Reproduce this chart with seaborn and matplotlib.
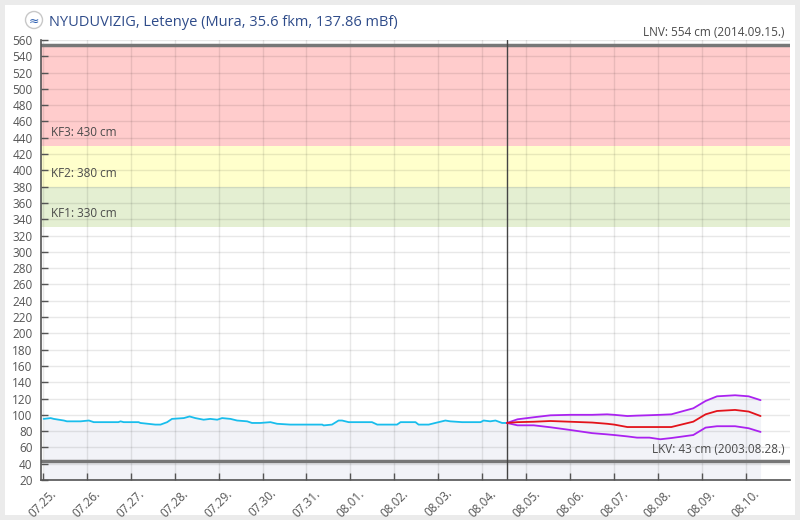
import pandas as pd
import matplotlib.pyplot as plt
import matplotlib.dates as mdates
from matplotlib.patches import Rectangle, Ellipse
import seaborn as sns

# observed water level (days since 07.25 00:00, cm)
start = pd.Timestamp("2025-07-25")
obs_day = [0.02, 0.18, 0.25, 0.48, 0.55, 0.86, 1.05, 1.16, 1.72, 1.77, 1.84, 2.18, 2.22,
           2.56, 2.68, 2.83, 2.94, 3.21, 3.34, 3.47, 3.66, 3.81, 3.97, 4.08, 4.27, 4.42,
           4.65, 4.76, 4.95, 5.18, 5.33, 5.63, 5.86, 6.36, 6.39, 6.58, 6.73, 6.81, 6.96,
           7.49, 7.61, 8.06, 8.14, 8.48, 8.55, 8.78, 8.93, 9.16, 9.27, 9.54, 9.96, 10.03,
           10.18, 10.30, 10.45, 10.56]
obs_level = [95, 96, 95, 93, 92, 92, 93, 91, 91, 92, 91, 91, 90,
             88, 88, 91, 95, 96, 98, 96, 94, 95, 94, 96, 95, 93,
             92, 90, 90, 91, 89, 88, 88, 88, 87, 88, 93, 93, 91,
             91, 88, 88, 91, 91, 88, 88, 90, 93, 92, 91, 91, 93,
             92, 93, 90, 90]

# forecast (mid, upper and lower band)
fc_day = [10.56, 10.8, 11.17, 11.55, 12.0, 12.5, 12.84, 13.0, 13.3, 13.52, 13.8,
          14.05, 14.3, 14.8, 15.08, 15.34, 15.75, 16.06, 16.33]
fc_mid = [90, 91, 91.5, 92.4, 91.5, 90.5, 89, 88, 85, 85, 85,
          85, 85, 91.6, 100.6, 104.7, 106, 104, 98.5]
fc_high = [90, 94.5, 97, 99.4, 100, 100, 100.6, 100, 98.5, 99, 99.5,
           100, 100.6, 108, 117, 122.7, 124, 122.7, 118]
fc_low = [90, 87.1, 87.1, 84.7, 81.4, 77.5, 76, 75.2, 73.5, 72, 72,
          70, 71.5, 75.2, 84.3, 86, 86, 83.5, 79]

now_day = 10.56
tick_days = pd.date_range("2025-07-25", "2025-08-10", freq="D")
zone_low = [330, 380, 430]
zone_high = [380, 430, 554]
zone_colors = ['#e4efd2', '#ffffcc', '#ffcccc']
zone_labels = ['KF1: 330 cm', 'KF2: 380 cm', 'KF3: 430 cm']
lnv, lnv_label = 554, 'LNV: 554 cm (2014.09.15.)'
lkv, lkv_label = 43, 'LKV: 43 cm (2003.08.28.)'
title = 'NYUDUVIZIG, Letenye (Mura, 35.6 fkm, 137.86 mBf)'

obs = pd.DataFrame({'time': start + pd.to_timedelta(obs_day, unit='D'), 'level': obs_level})
fc = pd.DataFrame({'time': start + pd.to_timedelta(fc_day, unit='D'),
                   'mid': fc_mid, 'high': fc_high, 'low': fc_low})

sns.set_theme(style='white')
plt.rcParams['font.family'] = ['Open Sans', 'DejaVu Sans']
txt = '#4a4a4a'

fig = plt.figure(figsize=(8, 5.2), dpi=100, facecolor='#ebebeb')
fig.patches.append(Rectangle((5 / 800, 5 / 520), 790 / 800, 510 / 520, transform=fig.transFigure,
                             facecolor='white', edgecolor='none', zorder=-5))
ax = fig.add_axes([41 / 800, 40 / 520, 749 / 800, 440 / 520])
ax.set_zorder(1)
ax.set_facecolor('none')

for lo, hi, c in zip(zone_low, zone_high, zone_colors):
    ax.axhspan(lo, hi, color=c, zorder=0.2, lw=0)

ax.fill_between(obs['time'], obs['level'], 0, color='#f2f3f8', zorder=0.3, lw=0)
ax.fill_between(fc['time'], fc['high'], 0, color='#f2f3f8', zorder=0.3, lw=0)

ax.grid(True, color='black', alpha=0.09, lw=1, zorder=0.5)
ax.set_axisbelow(True)

sns.lineplot(data=obs, x='time', y='level', color='#19bdec', lw=1.3, ax=ax, zorder=3)
sns.lineplot(data=fc, x='time', y='high', color='#aa22f0', lw=1.3, ax=ax, zorder=3)
sns.lineplot(data=fc, x='time', y='low', color='#aa22f0', lw=1.3, ax=ax, zorder=3)
sns.lineplot(data=fc, x='time', y='mid', color='#e3131b', lw=1.3, ax=ax, zorder=3)

ax.axhline(lnv, color='#777777', lw=2.5, zorder=2)
ax.axhline(lkv, color='#777777', lw=2.5, zorder=2)
ax.axvline(start + pd.Timedelta(days=now_day), color='#444444', lw=1, zorder=2.5)

ax.set_ylim(20, 560)
ax.set_yticks(range(20, 561, 20))
ax.set_xlim(start - pd.Timedelta(days=0.04), start + pd.Timedelta(days=17.0))
ax.set_xticks(tick_days)
ax.xaxis.set_major_formatter(mdates.DateFormatter('%m.%d.'))
ax.set_xlabel('')
ax.set_ylabel('')
ax.tick_params(axis='both', direction='in', length=5, width=1, color='#555555',
               labelcolor='#555555', labelsize=8.5, left=True, bottom=True)
ax.tick_params(axis='y', pad=6)
ax.tick_params(axis='x', pad=5)
for lab in ax.get_xticklabels():
    lab.set_rotation(45)
    lab.set_ha('center')
    lab.set_va('top')
for side in ['top', 'right']:
    ax.spines[side].set_visible(False)
for side in ['left', 'bottom']:
    ax.spines[side].set_color('#555555')
    ax.spines[side].set_linewidth(1.2)

# threshold labels
tr = ax.get_yaxis_transform()
for lo, lab in zip(zone_low, zone_labels):
    ax.annotate(lab, (0.013, lo), xycoords=tr, xytext=(0, 5), textcoords='offset points',
                va='bottom', ha='left', fontsize=8.5, color=txt, zorder=4)
ax.annotate(lnv_label, (0.993, lnv), xycoords=tr, xytext=(0, 4), textcoords='offset points',
            va='bottom', ha='right', fontsize=8.5, color=txt, zorder=4, annotation_clip=False)
ax.annotate(lkv_label, (0.993, lkv), xycoords=tr, xytext=(0, 4), textcoords='offset points',
            va='bottom', ha='right', fontsize=8.5, color=txt, zorder=4)

# title with small logo
fig.add_artist(Ellipse((34 / 800, 1 - 20 / 520), 17 / 800, 17 / 520, transform=fig.transFigure,
                       facecolor='white', edgecolor='#c8c8c8', lw=1))
fig.text(34 / 800, 1 - 21 / 520, '≈', color='#2a5db0', fontsize=9, ha='center', va='center',
         family='DejaVu Sans')
fig.text(49 / 800, 1 - 26 / 520, title, color='#2f4c8a', fontsize=10.5, ha='left', va='baseline')

fig.savefig('out.png', dpi=100, facecolor=fig.get_facecolor())
